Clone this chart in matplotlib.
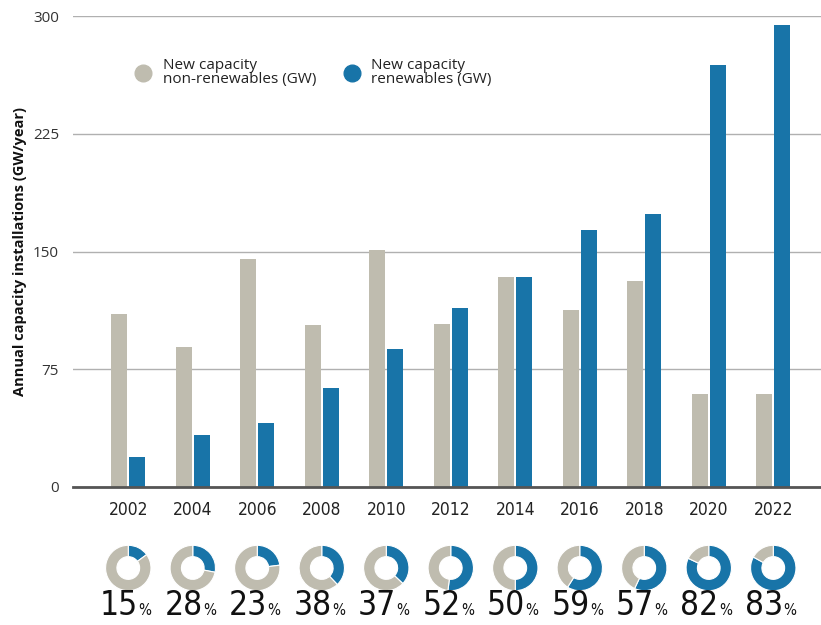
import numpy as np
import matplotlib.pyplot as plt
from matplotlib import font_manager
from matplotlib.patches import Wedge
from matplotlib.lines import Line2D

# values
years = ['2002', '2004', '2006', '2008', '2010', '2012',
         '2014', '2016', '2018', '2020', '2022']
non_renew = [110, 89, 145, 103, 151, 104, 134, 113, 131, 59, 59]
renew = [19, 33, 41, 63, 88, 114, 134, 164, 174, 269, 294]
share_pct = [15, 28, 23, 38, 37, 52, 50, 59, 57, 82, 83]
y_ticks = [0, 75, 150, 225, 300]

GREY = '#bfbcaf'
BLUE = '#1874a8'
plt.rcParams['font.family'] = ['Open Sans', 'DejaVu Sans']


# look for a narrow face for the year and percent labels
def narrow_font():
    for f in font_manager.fontManager.ttflist:
        nm = f.name.lower()
        if ('narrow' in nm or 'condensed' in nm or
                str(f.stretch) in ('condensed', 'semi-condensed', '300', '400')) \
                and f.weight in ('normal', 'regular', 400, 'book') and f.style == 'normal':
            return font_manager.FontProperties(fname=f.fname)
    return font_manager.FontProperties(family='DejaVu Sans')


NARROW = narrow_font()

W, H = 821, 625
fig = plt.figure(figsize=(W / 100, H / 100), dpi=100)

ax_l, ax_w = 73 / W, 748 / W
ax = fig.add_axes([ax_l, 1 - 487 / H, ax_w, (487 - 16) / H])
x = np.arange(len(years))
xlim = (-0.857, 10.74)
bw = 0.25
ax.bar(x - 0.14, non_renew, bw, color=GREY, zorder=2)
ax.bar(x + 0.14, renew, bw, color=BLUE, zorder=2)
ax.set_xlim(*xlim)
ax.set_ylim(0, 300)
ax.set_yticks(y_ticks)
ax.set_yticklabels([str(t) for t in y_ticks], fontsize=11, color='#333333')
ax.set_xticks(x)
ax.set_xticklabels(years, color='#222222', fontproperties=NARROW)
for t in ax.get_xticklabels():
    t.set_fontsize(12.5)
ax.tick_params(length=0, axis='y', pad=10)
ax.tick_params(length=0, axis='x', pad=10)
ax.grid(axis='y', color='#b0b0b0', lw=1, zorder=0)
for s in ['top', 'right', 'left']:
    ax.spines[s].set_visible(False)
ax.spines['bottom'].set_color('#555555')
ax.spines['bottom'].set_linewidth(2)
ax.spines['bottom'].set_zorder(3)
ax.set_ylabel('Annual capacity installations (GW/year)', fontsize=10.5,
              fontweight='bold', color='#111111', labelpad=4)

handles = [Line2D([], [], ls='', marker='o', ms=12, color=GREY),
           Line2D([], [], ls='', marker='o', ms=12, color=BLUE)]
ax.legend(handles, ['New capacity\nnon-renewables (GW)',
                    'New capacity\nrenewables (GW)'],
          ncol=2, frameon=False, loc='upper left',
          bbox_to_anchor=(0.055, 0.94),
          handletextpad=0.3, columnspacing=1.3, labelspacing=0.2,
          prop={'size': 11, 'family': ['Open Sans', 'DejaVu Sans']})
for t in ax.get_legend().get_texts():
    t.set_linespacing(0.95)
    t.set_color('#222222')

# donut row, same x scale as the bars
ax2 = fig.add_axes([ax_l, 0, ax_w, 95 / H])
ppu = ax_w * W / (xlim[1] - xlim[0])
ax2.set_xlim(*xlim)
ax2.set_ylim(-95 / ppu, 0)
ax2.axis('off')
cy = -38 / ppu
r = 22.7 / ppu
for i, p in enumerate(share_pct):
    ang = p / 100 * 360
    ax2.add_patch(Wedge((i, cy), r, 90 - ang, 90, width=0.5 * r,
                        facecolor=BLUE, edgecolor='white', lw=0.8))
    ax2.add_patch(Wedge((i, cy), r, -270, 90 - ang, width=0.5 * r,
                        facecolor=GREY, edgecolor='white', lw=0.8))
    ax2.text(i + 0.15, -85 / ppu, str(p), ha='right', va='baseline',
             fontproperties=NARROW, fontsize=24, color='#111111')
    ax2.text(i + 0.16, -85 / ppu, '%', ha='left', va='baseline',
             fontproperties=NARROW, fontsize=11, color='#111111')

fig.savefig('out.png', dpi=100)
